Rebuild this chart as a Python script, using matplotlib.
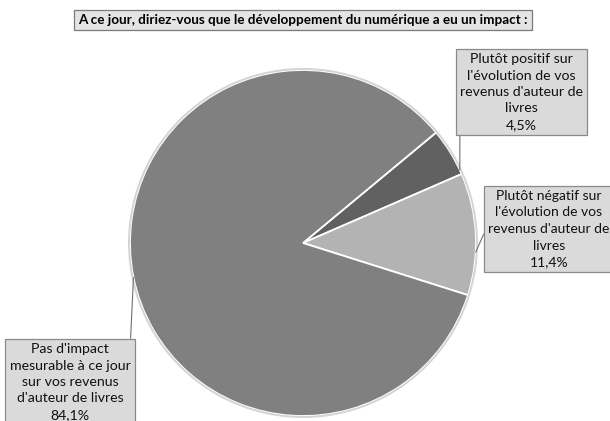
import matplotlib.pyplot as plt
import numpy as np
from matplotlib.patches import Circle

plt.rcParams['font.family'] = ['Lato', 'DejaVu Sans']

W, H = 610, 421

title = "A ce jour, diriez-vous que le développement du numérique a eu un impact :"
labels = [
    "Plutôt positif sur\nl'évolution de vos\nrevenus d'auteur de\nlivres\n4,5%",
    "Plutôt négatif sur\nl'évolution de vos\nrevenus d'auteur de\nlivres\n11,4%",
    "Pas d'impact\nmesurable à ce jour\nsur vos revenus\nd'auteur de livres\n84,1%",
]
values = [4.5, 11.4, 84.1]
colors = ["#616161", "#b3b3b3", "#808080"]

# layout (pixel coords, y from top)
center = (303, 243)
radius = 173
label_pos = [(521.5, 92), (549, 229), (70, 382)]
label_size = [10.2, 10.0, 10.2]
anchor_angles = [25, -3, 191.5]
relpos = [(0, 0.55), (0, 0.57), (1, 1)]

fig = plt.figure(figsize=(W / 100, H / 100), dpi=100)
ax = fig.add_axes([0, 0, 1, 1])

cx, cy = center[0], H - center[1]
ax.pie(values, colors=colors, startangle=39.7, counterclock=False,
       center=(cx, cy), radius=radius,
       wedgeprops=dict(edgecolor="white", linewidth=1.3))
ax.add_patch(Circle((cx, cy), radius + 1, fill=False, edgecolor="#d4d4d4", linewidth=1.4))

for lab, (lx, ly), fs, ang, rp in zip(labels, label_pos, label_size, anchor_angles, relpos):
    a = np.deg2rad(ang)
    ex, ey = cx + radius * np.cos(a), cy + radius * np.sin(a)
    ax.annotate(lab, xy=(ex, ey), xytext=(lx, H - ly), ha="center", va="center",
                multialignment="center", fontsize=fs, color="#111111",
                linespacing=1.45,
                bbox=dict(boxstyle="square,pad=0.3", facecolor="#dadada",
                          edgecolor="#8a8a8a", linewidth=0.9),
                arrowprops=dict(arrowstyle="-", color="#707070", linewidth=0.8,
                                relpos=rp, shrinkA=0, shrinkB=0))

ax.text(303, H - 20, title, ha="center", va="center", fontsize=9.7,
        fontweight="bold", color="#000000",
        bbox=dict(boxstyle="square,pad=0.3", facecolor="#e4e4e4",
                  edgecolor="#7a7a7a", linewidth=0.9))

ax.set_xlim(0, W)
ax.set_ylim(0, H)
ax.set_aspect("equal")
ax.axis("off")
fig.savefig("out.png", dpi=100, facecolor="white")
